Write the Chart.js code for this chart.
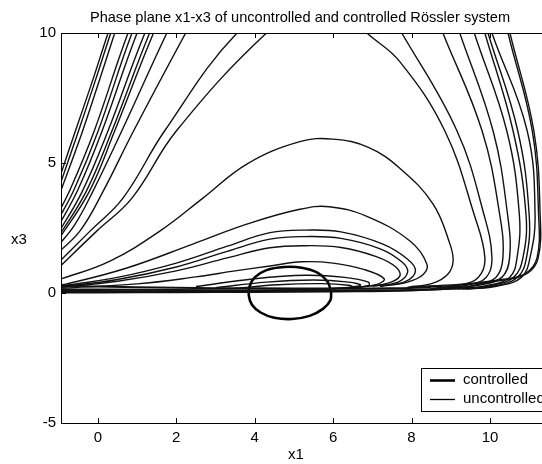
<!DOCTYPE html>
<html>
<head>
<meta charset="utf-8">
<script src="https://cdn.jsdelivr.net/npm/chart.js@4"></script>
<style>
  html, body { margin: 0; padding: 0; background: #fff; overflow: hidden; }
  #wrap { position: relative; width: 552px; height: 464px; }
</style>
</head>
<body>
<div id="wrap"><canvas id="phase"></canvas></div>
<script>
const xTicks = [0, 2, 4, 6, 8, 10];
const yTicks = [-5, 0, 5, 10];

// controlled: limit cycle around the equilibrium
const controlled = [
  [5.95, 0.05], [5.85, 0.45], [5.6, 0.78], [5.2, 0.97], [4.75, 1.0], [4.3, 0.88],
  [4.0, 0.6], [3.87, 0.25], [3.85, -0.1], [3.93, -0.45], [4.15, -0.75], [4.5, -0.95],
  [4.95, -1.0], [5.4, -0.88], [5.75, -0.6], [5.93, -0.28], [5.95, 0.05]
];

// uncontrolled: branches coming down on the left
const uncontrolledLeft = [
  [[0.45, 10.8], [0.26, 10], [-0.15, 8.1], [-0.58, 6.2], [-1.05, 4.1]],
  [[0.52, 10.8], [0.33, 10], [-0.08, 8.1], [-0.5, 6.2], [-1.05, 3.8]],
  [[0.6, 10.8], [0.43, 10], [0.0, 8.0], [-0.42, 6.1], [-1.05, 3.5]],
  [[1.05, 10.8], [0.77, 10], [-0.1, 6.2], [-0.7, 4.0], [-1.05, 2.95]],
  [[1.15, 10.8], [0.87, 10], [0.0, 6.2], [-0.6, 4.0], [-1.05, 2.7]],
  [[1.28, 10.8], [1.0, 10], [0.1, 6.2], [-0.5, 4.0], [-1.05, 2.45]],
  [[1.5, 10.8], [1.2, 10], [0.25, 6.2], [-0.4, 3.9], [-1.05, 2.2]],
  [[1.6, 10.8], [1.32, 10], [0.35, 6.2], [-0.3, 3.9], [-1.05, 2.05]],
  [[1.7, 10.8], [1.42, 10], [0.42, 6.2], [-0.22, 3.9], [-1.05, 1.95]],
  [[2.05, 10.8], [1.76, 10], [0.6, 6.2], [-0.13, 3.9], [-0.6, 2.6], [-1.05, 1.75]],
  [[2.55, 10.8], [2.24, 10], [0.9, 6.2], [0.13, 3.9], [-0.45, 2.4], [-1.05, 1.5]],
  [[4.6, 10.8], [3.55, 10], [1.7, 6.23], [0.64, 3.65], [-0.2, 2.38], [-1.05, 1.1]],
  [[5.3, 10.9], [4.3, 10], [2.0, 6.23], [0.87, 3.65], [-0.03, 2.38], [-1.05, 0.9]]
];

// uncontrolled: lower arches
const uncontrolledArches = [
  [[-1.1, 0.48], [-0.94, 0.54], [0.31, 1.23], [1.58, 2.38], [2.68, 3.65], [3.8, 4.96], [5.15, 5.82],
   [6.0, 5.92], [6.9, 5.6], [7.7, 4.8], [8.55, 3.42], [8.98, 1.88], [9.06, 1.23], [8.93, 0.73], [8.55, 0.38], [7.9, 0.22]],
  [[-1.1, 0.3], [-0.79, 0.35], [0.74, 0.96], [2.42, 1.88], [3.8, 2.65], [5.15, 3.22], [5.9, 3.32],
   [6.86, 2.95], [7.96, 2.0], [8.39, 1.12], [8.29, 0.7], [7.9, 0.42], [7.2, 0.25]],
  [[-1.1, 0.26], [-0.9, 0.28], [0.5, 0.6], [2, 1.15], [3.3, 1.8], [4.39, 2.32], [5.3, 2.42], [6.2, 2.35],
   [7.27, 1.88], [7.9, 1.3], [8.1, 0.85], [7.85, 0.45], [7.2, 0.27]],
  [[-1.1, 0.24], [-0.9, 0.25], [0.5, 0.52], [2, 1.0], [3.3, 1.6], [4.39, 2.07], [5.3, 2.17], [6.2, 2.1],
   [7.2, 1.7], [7.75, 1.2], [7.9, 0.8], [7.65, 0.42], [7.0, 0.26]],
  [[-1.1, 0.22], [-0.9, 0.23], [0.5, 0.45], [2, 0.85], [3.3, 1.35], [4.39, 1.74], [5.3, 1.82], [6.2, 1.75],
   [7.1, 1.4], [7.6, 1.0], [7.7, 0.65], [7.4, 0.38], [6.8, 0.25]],
  [[-1.1, 0.18], [-0.9, 0.19], [1, 0.35], [2.5, 0.62], [3.5, 0.85], [4.39, 1.04], [5.2, 1.2], [6.0, 1.15],
   [6.8, 0.9], [7.3, 0.55], [7.1, 0.32], [6.5, 0.22]]
];

// uncontrolled: small loops near the equilibrium
const uncontrolledLoops = [
  [[2.5, 0.25], [4.0, 0.55], [5.3, 0.68], [6.3, 0.6], [6.9, 0.42], [6.9, 0.28], [6.4, 0.2]],
  [[3.0, 0.2], [4.3, 0.42], [5.5, 0.5], [6.4, 0.42], [6.7, 0.3], [6.3, 0.2]],
  [[3.5, 0.18], [4.6, 0.32], [5.7, 0.36], [6.4, 0.3], [6.5, 0.22], [6.0, 0.16]]
];

// uncontrolled: slow drift along x3 ~ 0
const uncontrolledBase = [
  [[-1.1, 0.3], [0, 0.25], [2, 0.2], [4, 0.18], [6, 0.17], [7.5, 0.18], [8.5, 0.22]],
  [[-1.1, 0.15], [0, 0.13], [2, 0.12], [4, 0.1], [6, 0.1], [8, 0.12], [9.5, 0.2]],
  [[-1.1, 0.02], [0, 0.02], [2, 0.03], [4, 0.04], [6, 0.06], [8, 0.1], [9.5, 0.2]],
  [[-1.1, 0.08], [1, 0.07], [3, 0.08], [5, 0.12], [6.5, 0.2]]
];

// uncontrolled: steep rise on the right
const uncontrolledRight = [
  [[6.3, 10.8], [6.86, 10], [7.7, 8.9], [8.85, 6.23], [9.6, 3.0], [9.87, 1.35], [9.7, 0.6], [9.2, 0.3], [8.5, 0.18]],
  [[7.4, 10.8], [7.75, 10], [9.16, 6.23], [9.85, 3.0], [10.05, 1.35], [9.9, 0.6], [9.4, 0.3], [8.7, 0.18]],
  [[8.6, 10.8], [8.8, 10], [9.8, 6.23], [10.25, 3.0], [10.33, 1.35], [10.15, 0.6], [9.6, 0.3], [8.9, 0.17]],
  [[9.05, 10.8], [9.23, 10], [10.08, 6.23], [10.45, 3.0], [10.5, 1.35], [10.3, 0.6], [9.7, 0.3], [9.0, 0.17]],
  [[9.45, 10.8], [9.6, 10], [10.43, 6.23], [10.75, 3.0], [10.69, 1.35], [10.5, 0.6], [9.9, 0.28], [9.1, 0.16]],
  [[9.72, 10.8], [9.87, 10], [10.59, 6.23], [10.92, 3.0], [10.84, 1.35], [10.6, 0.6], [10.0, 0.28], [9.2, 0.16]],
  [[9.8, 10.8], [9.95, 10], [10.71, 6.23], [11.0, 3.0], [10.93, 1.35], [10.7, 0.6], [10.1, 0.27], [9.3, 0.15]],
  [[9.9, 10.8], [10.05, 10], [10.95, 6.23], [11.15, 3.0], [11.02, 1.35], [10.8, 0.6], [10.2, 0.27], [9.4, 0.15]],
  [[10.35, 10.8], [10.46, 10], [11.08, 6.23], [11.24, 3.0], [11.2, 1.35], [10.9, 0.75], [10.3, 0.52], [9.2, 0.33], [8.0, 0.25]],
  [[10.4, 10.8], [10.51, 10], [11.12, 6.23], [11.28, 3.0], [11.23, 1.35], [10.95, 0.75], [10.35, 0.5], [9.2, 0.3], [8.0, 0.22]]
];

const FONT = "'Liberation Sans', Arial, sans-serif";
const titleText = 'Phase plane x1-x3 of uncontrolled and controlled R\u00f6ssler system';

function pts(curve) {
  return curve.map(([x, y]) => ({ x, y }));
}

function line(curve, width) {
  return {
    label: 'uncontrolled',
    data: pts(curve),
    showLine: true,
    borderColor: '#111',
    borderWidth: width,
    pointRadius: 0,
    tension: 0.4,
    clip: 0,
  };
}

const datasets = [];
[...uncontrolledLeft, ...uncontrolledArches, ...uncontrolledLoops, ...uncontrolledRight]
  .forEach((c) => datasets.push(line(c, 1.4)));
uncontrolledBase.forEach((c) => datasets.push(line(c, 2)));
datasets.push({
  label: 'controlled',
  data: pts(controlled),
  showLine: true,
  borderColor: '#000',
  borderWidth: 2.6,
  pointRadius: 0,
  tension: 0.4,
  clip: 0,
});

// frame, inward ticks, title, axis names and legend (MATLAB look)
const frame = {
  id: 'frame',
  afterDraw(chart) {
    const { ctx, chartArea: a, scales: { x, y } } = chart;
    ctx.save();
    ctx.strokeStyle = '#000';
    ctx.lineWidth = 1;
    ctx.beginPath();
    ctx.rect(a.left + 0.5, a.top + 0.5, a.right - a.left, a.bottom - a.top);
    xTicks.forEach((v) => {
      const px = Math.round(x.getPixelForValue(v)) + 0.5;
      ctx.moveTo(px, a.bottom); ctx.lineTo(px, a.bottom - 5);
      ctx.moveTo(px, a.top); ctx.lineTo(px, a.top + 5);
    });
    yTicks.forEach((v) => {
      const py = Math.round(y.getPixelForValue(v)) + 0.5;
      ctx.moveTo(a.left, py); ctx.lineTo(a.left + 5, py);
    });
    ctx.stroke();

    ctx.fillStyle = '#000';
    ctx.font = '14.6px ' + FONT;
    ctx.textAlign = 'center';
    ctx.textBaseline = 'alphabetic';
    ctx.fillText(titleText, 300, 22);
    ctx.font = '15px ' + FONT;
    ctx.textBaseline = 'middle';
    ctx.fillText('x1', 296, 455);
    ctx.fillText('x3', 19, 240);

    // legend box
    ctx.fillStyle = '#fff';
    ctx.fillRect(421.5, 368.5, 140, 43);
    ctx.strokeRect(421.5, 368.5, 140, 43);
    ctx.beginPath();
    ctx.lineWidth = 2.6;
    ctx.moveTo(430, 380.5); ctx.lineTo(455, 380.5);
    ctx.stroke();
    ctx.beginPath();
    ctx.lineWidth = 1.3;
    ctx.moveTo(430, 399.5); ctx.lineTo(455, 399.5);
    ctx.stroke();
    ctx.fillStyle = '#000';
    ctx.font = '15px ' + FONT;
    ctx.textAlign = 'left';
    ctx.fillText('controlled', 463, 380);
    ctx.fillText('uncontrolled', 463, 399);
    ctx.restore();
  }
};

new Chart(document.getElementById('phase'), {
  type: 'scatter',
  data: { datasets },
  options: {
    responsive: true,
    maintainAspectRatio: false,
    animation: false,
    events: [],
    layout: { padding: { left: 0, top: 33, right: 4, bottom: 0 } },
    plugins: { legend: { display: false }, title: { display: false }, tooltip: { enabled: false } },
    scales: {
      x: {
        type: 'linear',
        min: -0.94,
        max: 11.48,
        afterBuildTicks: (s) => { s.ticks = xTicks.map((v) => ({ value: v })); },
        afterFit: (s) => { s.height = 41; },
        grid: { display: false, drawTicks: false },
        border: { display: false },
        ticks: { font: { family: FONT, size: 15 }, color: '#000', padding: 6, maxRotation: 0, autoSkip: false },
      },
      y: {
        type: 'linear',
        min: -5,
        max: 10,
        afterBuildTicks: (s) => { s.ticks = yTicks.map((v) => ({ value: v })); },
        afterFit: (s) => { s.width = 61; },
        grid: { display: false, drawTicks: false },
        border: { display: false },
        ticks: { font: { family: FONT, size: 15 }, color: '#000', padding: 5, autoSkip: false },
      },
    },
  },
  plugins: [frame],
});
</script>
</body>
</html>
